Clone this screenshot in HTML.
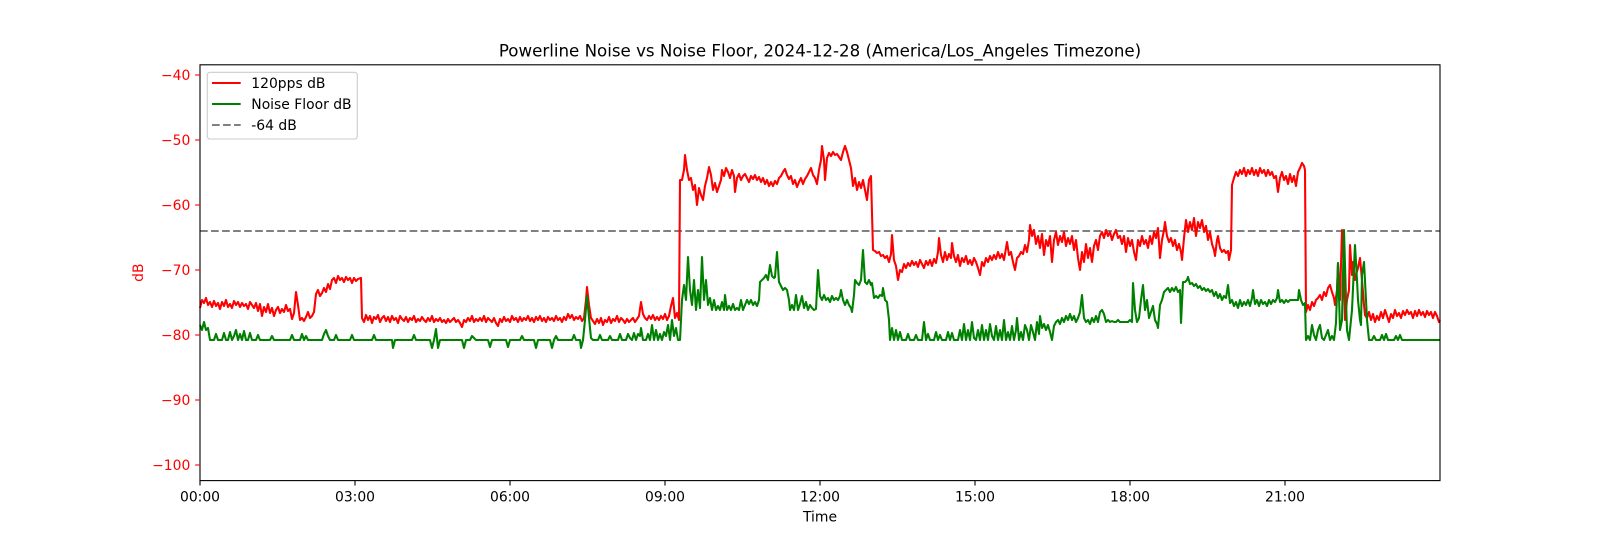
<!DOCTYPE html>
<html>
<head>
<meta charset="utf-8">
<style>
html,body{margin:0;padding:0;background:#fff;}
svg{display:block;}
text{font-family:"DejaVu Sans","Liberation Sans",sans-serif;}
</style>
</head>
<body>
<svg width="1600" height="540" viewBox="0 0 1600 540" xmlns="http://www.w3.org/2000/svg">
<rect x="0" y="0" width="1600" height="540" fill="#fff"/>

<!-- dashed -64 line -->
<line x1="200" y1="231" x2="1440" y2="231" stroke="#808080" stroke-width="2.08" stroke-dasharray="7.7,3.33"/>

<!-- red series -->
<polyline fill="none" stroke="#ff0000" stroke-width="2.08" stroke-linejoin="round" points="200,308 202,300 204,303 206,298 208,305 210,302 212,307 214,301 216,306 218,303 220,309 222,302 224,306 226,300 228,307 230,304 232,308 234,301 236,305 238,302 240,307 242,303 244,306 246,304 248,309 250,302 252,305 254,308 256,303 258,311 260,304 262,316 264,307 266,312 268,304 270,313 272,308 274,316 276,310 278,307 280,313 282,309 284,312 286,305 288,311 290,309 292,319 294,313 296,292 298,305 300,320 302,318 304,321 306,317 308,312 310,318 312,316 314,312 316,294 318,290 320,296 322,293 324,288 326,292 328,284 330,289 332,280 334,278 336,283 338,276 340,280 342,278 344,282 346,277 348,280 350,278 352,283 354,278 356,281 358,279 361,278 362,318 364,322 366,315 368,320 370,316 372,323 374,317 376,319 378,315 380,322 382,318 384,316 386,321 388,317 390,322 392,316 394,320 396,318 398,323 400,316 402,319 404,321 406,317 408,322 410,318 412,320 414,316 416,322 418,319 420,321 422,317 424,320 426,322 428,318 430,321 432,316 434,322 436,319 438,321 440,318 442,322 444,320 446,323 448,319 450,322 452,320 454,318 456,322 458,320 460,323 462,327 464,320 466,322 468,318 470,321 472,316 474,322 476,319 478,321 480,318 482,321 484,316 486,322 488,318 490,320 492,322 494,318 496,323 498,326 500,319 502,322 504,317 506,321 508,319 510,322 512,316 514,320 516,318 518,322 520,317 522,321 524,318 526,320 528,316 530,321 532,318 534,322 536,317 538,320 540,316 542,321 544,318 546,322 548,317 550,320 552,318 554,321 556,316 558,320 560,318 562,322 564,317 566,320 568,314 570,318 572,315 574,320 576,317 578,319 580,316 582,321 584,318 586,300 587,287 589,305 591,318 593,321 595,324 597,319 599,323 601,318 603,325 605,320 607,322 609,317 611,323 613,319 615,321 617,316 619,322 621,318 623,320 625,323 627,319 629,322 631,320 633,318 635,322 637,319 639,316 641,302 643,314 645,318 647,320 649,316 651,319 653,315 655,320 657,317 659,320 661,316 663,319 665,314 667,320 669,316 671,306 673,298 675,318 677,313 679,320 680,180 682,180 684,170 685,155 687,170 689,180 691,178 693,190 695,185 697,205 699,188 701,195 703,200 705,186 707,178 709,167 711,175 713,190 715,183 717,192 719,186 721,180 722,170 724,176 726,168 728,172 730,178 732,170 734,176 735,192 737,178 739,174 741,180 743,176 745,174 747,178 749,182 751,176 753,179 755,175 757,180 759,177 761,182 763,178 765,184 767,180 769,186 771,182 773,186 775,181 777,184 779,178 781,176 783,172 785,169 787,175 789,179 791,176 793,184 795,180 797,187 799,182 801,178 803,184 805,179 807,176 809,172 811,168 813,175 815,178 817,184 819,170 821,160 822,146 824,160 825,180 827,158 829,153 831,156 833,152 835,155 837,154 839,157 841,160 843,152 845,146 847,152 849,160 851,168 853,186 855,178 857,190 859,182 861,188 863,180 865,190 867,200 869,180 871,176 873,250 875,251 877,253 879,252 881,256 883,255 885,258 887,256 889,262 891,254 892,235 894,260 896,266 898,280 900,270 902,272 904,264 906,268 908,263 910,266 912,261 914,265 916,262 918,267 920,260 922,264 924,268 926,261 928,265 930,260 932,266 934,259 936,263 938,252 939,238 941,255 943,262 945,252 947,260 949,254 951,258 952,243 954,256 956,262 958,255 960,266 962,258 964,262 966,256 968,264 970,260 972,265 974,258 976,262 978,268 980,275 982,262 984,266 986,258 988,262 990,256 992,260 994,255 996,259 998,252 1000,258 1002,254 1004,260 1006,248 1007,242 1009,255 1011,252 1013,262 1015,270 1017,258 1019,256 1021,252 1023,254 1025,245 1027,252 1029,240 1030,225 1032,236 1034,230 1036,244 1038,236 1040,248 1042,234 1044,255 1046,240 1048,246 1050,236 1052,262 1054,240 1056,232 1058,245 1060,236 1062,242 1064,232 1066,246 1068,238 1070,244 1072,236 1074,250 1076,240 1078,258 1080,270 1082,252 1084,262 1086,244 1088,258 1090,248 1092,262 1094,246 1096,240 1098,250 1100,236 1102,232 1104,238 1106,230 1108,236 1110,232 1112,240 1114,234 1116,230 1118,238 1120,236 1122,244 1124,236 1126,252 1128,238 1130,246 1132,240 1134,252 1136,260 1138,240 1140,246 1142,236 1144,244 1146,240 1148,248 1150,236 1152,244 1154,232 1156,238 1158,228 1160,258 1162,240 1164,230 1165,222 1167,236 1169,242 1171,238 1173,246 1175,240 1177,250 1179,244 1181,252 1182,260 1184,238 1186,220 1188,232 1190,222 1192,230 1194,218 1196,236 1198,222 1200,228 1202,220 1204,232 1206,226 1208,240 1210,232 1212,244 1214,250 1215,256 1217,240 1218,236 1220,248 1222,252 1224,250 1226,253 1228,251 1229,260 1231,250 1232,185 1234,178 1236,172 1238,176 1240,170 1242,174 1244,168 1246,176 1248,170 1250,174 1252,168 1254,175 1256,170 1258,176 1260,168 1262,173 1264,170 1266,176 1268,170 1270,175 1272,172 1274,178 1276,176 1278,192 1280,178 1282,172 1284,180 1286,176 1288,184 1290,174 1292,182 1294,176 1296,186 1298,172 1300,168 1302,163 1304,166 1305,170 1306,312 1308,305 1310,310 1312,302 1314,306 1316,300 1318,298 1320,295 1322,300 1324,292 1326,296 1328,288 1330,285 1332,292 1334,298 1335,305 1337,290 1338,263 1340,300 1342,230 1344,270 1345,320 1347,300 1349,290 1350,245 1352,275 1353,262 1355,280 1356,275 1358,268 1360,258 1362,280 1364,305 1365,315 1367,318 1369,312 1371,320 1373,314 1375,322 1377,316 1379,320 1381,312 1383,318 1385,310 1387,316 1389,322 1391,314 1393,318 1395,310 1397,316 1399,313 1401,318 1403,311 1405,315 1407,310 1409,314 1411,312 1413,318 1415,311 1417,316 1419,310 1421,315 1423,312 1425,317 1427,311 1429,315 1431,312 1433,318 1435,312 1437,316 1439,322 1440,320"/>

<!-- green series -->
<polyline fill="none" stroke="#008000" stroke-width="2.08" stroke-linejoin="round" points="200,325 202,330 204,322 206,330 208,328 210,340 214,340 216,334 218,340 222,340 224,333 226,340 228,340 230,332 232,340 234,336 236,330 238,340 240,334 242,340 244,331 246,340 248,340 250,333 252,340 256,340 258,335 260,340 270,340 272,336 274,340 290,340 292,335 294,340 300,340 302,334 304,340 306,336 308,340 322,340 324,334 326,330 328,336 330,340 334,340 336,335 338,340 350,340 352,335 354,340 372,340 374,335 376,340 392,340 393,348 395,340 412,340 414,335 416,340 430,340 432,348 434,340 436,329 438,348 440,340 462,340 464,348 466,340 470,340 472,336 474,338 476,340 488,340 490,347 492,340 506,340 508,347 510,340 520,340 522,336 524,340 534,340 536,348 538,340 550,340 552,348 554,340 556,336 558,340 572,340 574,335 576,340 580,340 581,348 583,340 585,320 587,296 589,318 591,338 593,340 598,340 600,335 602,340 608,340 610,336 612,340 618,340 620,334 622,340 626,340 628,334 630,338 632,340 634,333 636,340 638,334 640,336 641,328 643,340 646,340 648,334 650,340 652,325 654,340 656,330 658,340 660,334 662,340 664,332 666,336 668,325 670,340 672,320 674,336 676,328 678,340 680,340 682,300 684,285 686,300 688,257 690,290 692,305 694,280 696,310 698,290 700,308 702,257 704,300 706,280 708,305 710,298 712,310 714,300 716,310 718,306 720,310 722,302 724,310 725,295 727,310 729,306 731,310 733,304 735,310 737,308 739,310 741,300 743,310 745,305 747,300 749,304 751,300 753,305 755,302 757,306 759,300 760,282 762,280 764,278 766,275 768,280 770,265 772,276 774,278 775,277 777,252 779,282 781,286 783,290 785,288 787,290 789,300 790,310 792,305 794,310 796,295 798,310 800,304 802,296 804,308 806,302 808,310 810,305 812,308 814,310 816,309 818,270 820,296 822,300 824,295 826,300 828,298 830,302 832,296 834,300 836,298 838,300 840,296 841,290 843,300 845,305 847,300 849,305 851,308 852,312 854,295 855,280 857,283 859,285 861,280 863,250 865,282 867,284 869,280 871,285 872,283 874,298 876,296 878,298 880,295 882,296 883,288 885,300 887,302 889,320 890,340 892,328 894,340 896,330 898,340 900,332 902,340 906,340 908,334 910,340 914,340 916,335 918,340 922,340 924,322 926,340 928,334 930,340 934,340 936,332 938,340 940,335 942,340 946,340 948,332 950,340 952,333 954,340 958,340 960,330 962,340 964,324 966,340 968,330 970,340 972,322 974,338 976,340 978,330 980,340 982,325 984,340 986,330 988,340 990,324 992,336 994,340 996,326 998,340 1000,330 1002,340 1004,320 1006,340 1008,332 1010,340 1012,326 1014,340 1016,330 1017,318 1019,340 1021,332 1023,340 1025,325 1027,330 1029,340 1031,325 1033,332 1035,340 1037,322 1039,334 1040,316 1042,328 1044,324 1046,330 1048,325 1050,332 1052,340 1054,326 1056,322 1058,320 1060,324 1062,318 1064,322 1066,316 1068,320 1070,314 1072,320 1074,316 1076,322 1078,318 1080,312 1082,295 1084,318 1086,322 1088,320 1090,324 1092,318 1094,322 1096,316 1098,322 1100,312 1102,310 1104,314 1106,322 1108,320 1110,322 1112,321 1114,322 1116,322 1118,320 1120,322 1124,322 1128,322 1130,320 1132,322 1133,283 1135,310 1137,322 1139,318 1141,300 1143,285 1145,310 1147,300 1149,318 1151,312 1153,306 1155,320 1157,324 1158,328 1160,305 1162,300 1164,292 1166,290 1168,288 1170,292 1172,288 1174,291 1176,287 1178,292 1180,290 1181,323 1183,282 1185,282 1187,280 1188,277 1190,284 1192,283 1194,286 1196,284 1198,288 1200,286 1202,290 1204,288 1206,291 1208,289 1210,292 1212,290 1214,296 1216,292 1218,298 1220,294 1222,300 1224,296 1226,298 1228,285 1230,303 1232,300 1234,306 1236,302 1238,308 1240,300 1242,306 1244,302 1246,305 1248,300 1250,306 1252,298 1253,290 1255,304 1257,300 1259,306 1261,300 1263,304 1265,302 1267,306 1269,300 1271,304 1273,300 1275,302 1277,298 1278,290 1280,302 1282,300 1284,303 1286,300 1288,302 1290,300 1292,300 1294,300 1296,300 1298,300 1299,290 1301,300 1303,305 1305,303 1306,340 1308,336 1310,340 1312,325 1314,335 1316,340 1318,330 1320,325 1322,338 1324,340 1326,335 1328,330 1330,340 1332,336 1334,340 1336,323 1338,263 1340,330 1342,320 1344,230 1346,300 1347,330 1349,340 1350,330 1352,310 1355,245 1357,280 1358,300 1360,320 1361,325 1362,275 1364,262 1366,300 1367,320 1369,340 1372,340 1374,336 1376,340 1380,340 1382,335 1384,340 1386,334 1388,340 1394,340 1396,336 1398,340 1400,335 1402,340 1440,340"/>

<!-- axes frame -->
<rect x="200" y="64.8" width="1240" height="415.8" fill="none" stroke="#000" stroke-width="1.1"/>

<!-- y ticks (red) -->
<g stroke="#ff0000" stroke-width="1.1">
<line x1="195.1" y1="75" x2="200" y2="75"/>
<line x1="195.1" y1="140" x2="200" y2="140"/>
<line x1="195.1" y1="205" x2="200" y2="205"/>
<line x1="195.1" y1="270" x2="200" y2="270"/>
<line x1="195.1" y1="335" x2="200" y2="335"/>
<line x1="195.1" y1="400" x2="200" y2="400"/>
<line x1="195.1" y1="465" x2="200" y2="465"/>
</g>
<g fill="#ff0000" font-size="13.9" text-anchor="end">
<text x="190.3" y="80">−40</text>
<text x="190.3" y="145">−50</text>
<text x="190.3" y="210">−60</text>
<text x="190.3" y="275">−70</text>
<text x="190.3" y="340">−80</text>
<text x="190.3" y="405">−90</text>
<text x="190.3" y="470">−100</text>
</g>
<text x="0" y="0" fill="#ff0000" font-size="13.9" text-anchor="middle" transform="translate(143,272.7) rotate(-90)">dB</text>

<!-- x ticks -->
<g stroke="#000" stroke-width="1.1">
<line x1="200" y1="480.6" x2="200" y2="485.5"/>
<line x1="355" y1="480.6" x2="355" y2="485.5"/>
<line x1="510" y1="480.6" x2="510" y2="485.5"/>
<line x1="665" y1="480.6" x2="665" y2="485.5"/>
<line x1="820" y1="480.6" x2="820" y2="485.5"/>
<line x1="975" y1="480.6" x2="975" y2="485.5"/>
<line x1="1130" y1="480.6" x2="1130" y2="485.5"/>
<line x1="1285" y1="480.6" x2="1285" y2="485.5"/>
</g>
<g fill="#000" font-size="13.9" text-anchor="middle">
<text x="200" y="501.3">00:00</text>
<text x="355" y="501.3">03:00</text>
<text x="510" y="501.3">06:00</text>
<text x="665" y="501.3">09:00</text>
<text x="820" y="501.3">12:00</text>
<text x="975" y="501.3">15:00</text>
<text x="1130" y="501.3">18:00</text>
<text x="1285" y="501.3">21:00</text>
<text x="820" y="521.3">Time</text>
</g>

<!-- title -->
<text x="820" y="56.5" fill="#000" font-size="16.67" text-anchor="middle">Powerline Noise vs Noise Floor, 2024-12-28 (America/Los_Angeles Timezone)</text>

<!-- legend -->
<rect x="207.3" y="72.3" width="150" height="66.7" rx="2.8" ry="2.8" fill="#fff" fill-opacity="0.8" stroke="#cccccc" stroke-width="1.1"/>
<line x1="212" y1="83" x2="240.7" y2="83" stroke="#ff0000" stroke-width="2.08"/>
<line x1="212" y1="104" x2="240.7" y2="104" stroke="#008000" stroke-width="2.08"/>
<line x1="212" y1="125" x2="240.7" y2="125" stroke="#808080" stroke-width="2.08" stroke-dasharray="7.7,3.33"/>
<g fill="#000" font-size="13.9">
<text x="251.3" y="88">120pps dB</text>
<text x="251.3" y="109">Noise Floor dB</text>
<text x="251.3" y="130">-64 dB</text>
</g>
</svg>
</body>
</html>
